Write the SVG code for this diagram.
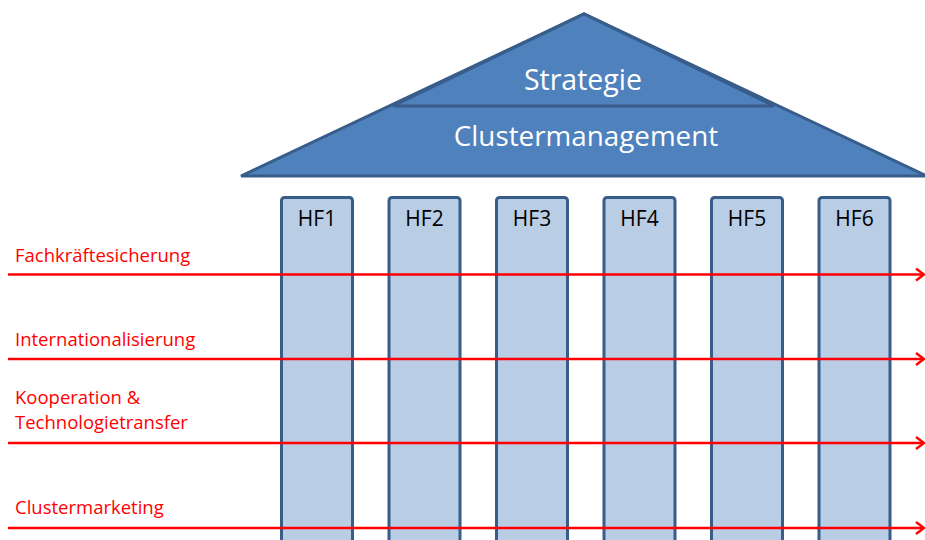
<svg xmlns="http://www.w3.org/2000/svg" width="925" height="540" viewBox="0 0 925 540">
  <style>
    .roof { fill: #4F81BD; stroke: #385D8A; stroke-width: 3; stroke-linejoin: miter; }
    .roof-text { fill: #FFFFFF; font-family: "Open Sans", "Liberation Sans", sans-serif; text-anchor: middle; }
    .pillar { fill: #B9CDE5; stroke: #385D8A; stroke-width: 3; }
    .pillar-text { fill: #000000; font-family: "Open Sans", "Liberation Sans", sans-serif; font-size: 21px; text-anchor: middle; }
    .axis { stroke: #FF0000; stroke-width: 2.5; fill: none; marker-end: url(#chevron); }
    .axis-text { fill: #FF0000; font-family: "Open Sans", "Liberation Sans", sans-serif; font-size: 18.5px; }
  </style>
  <defs>
    <marker id="chevron" viewBox="0 0 10 14" refX="9" refY="7" markerWidth="10" markerHeight="14" markerUnits="userSpaceOnUse" orient="auto">
      <path d="M1,1 L9,7 L1,13" fill="none" stroke="#FF0000" stroke-width="2.4"/>
    </marker>
  </defs>

  <!-- Roof -->
  <g id="roof-clustermanagement">
    <polygon class="roof" points="241,176 584,14 927,176"/>
    <text class="roof-text" x="586" y="146" font-size="27.8">Clustermanagement</text>
  </g>
  <g id="roof-strategie">
    <polygon class="roof" points="393,106 584,14 774,106"/>
    <text class="roof-text" x="583" y="90" font-size="28.5">Strategie</text>
  </g>

  <!-- Pillars -->
  <g id="hf1">
    <rect class="pillar" x="281.5" y="197.5" width="71" height="360" rx="3"/>
    <text class="pillar-text" x="317" y="226">HF1</text>
  </g>
  <g id="hf2">
    <rect class="pillar" x="389" y="197.5" width="71" height="360" rx="3"/>
    <text class="pillar-text" x="424.5" y="226">HF2</text>
  </g>
  <g id="hf3">
    <rect class="pillar" x="496.5" y="197.5" width="71" height="360" rx="3"/>
    <text class="pillar-text" x="532" y="226">HF3</text>
  </g>
  <g id="hf4">
    <rect class="pillar" x="604" y="197.5" width="71" height="360" rx="3"/>
    <text class="pillar-text" x="639.5" y="226">HF4</text>
  </g>
  <g id="hf5">
    <rect class="pillar" x="711.5" y="197.5" width="71" height="360" rx="3"/>
    <text class="pillar-text" x="747" y="226">HF5</text>
  </g>
  <g id="hf6">
    <rect class="pillar" x="819" y="197.5" width="71" height="360" rx="3"/>
    <text class="pillar-text" x="854.5" y="226">HF6</text>
  </g>

  <!-- Cross-cutting axes -->
  <g id="connectors">
    <line class="axis" x1="8" y1="274.5" x2="924" y2="274.5"/>
    <line class="axis" x1="8" y1="359" x2="924" y2="359"/>
    <line class="axis" x1="8" y1="443" x2="924" y2="443"/>
    <line class="axis" x1="8" y1="528" x2="924" y2="528"/>
  </g>
  <g id="axis-labels">
    <text class="axis-text" x="15" y="262">Fachkräftesicherung</text>
    <text class="axis-text" x="15" y="346">Internationalisierung</text>
    <text class="axis-text" x="15" y="404">Kooperation &amp;</text>
    <text class="axis-text" x="15" y="429">Technologietransfer</text>
    <text class="axis-text" x="15" y="514">Clustermarketing</text>
  </g>
</svg>
